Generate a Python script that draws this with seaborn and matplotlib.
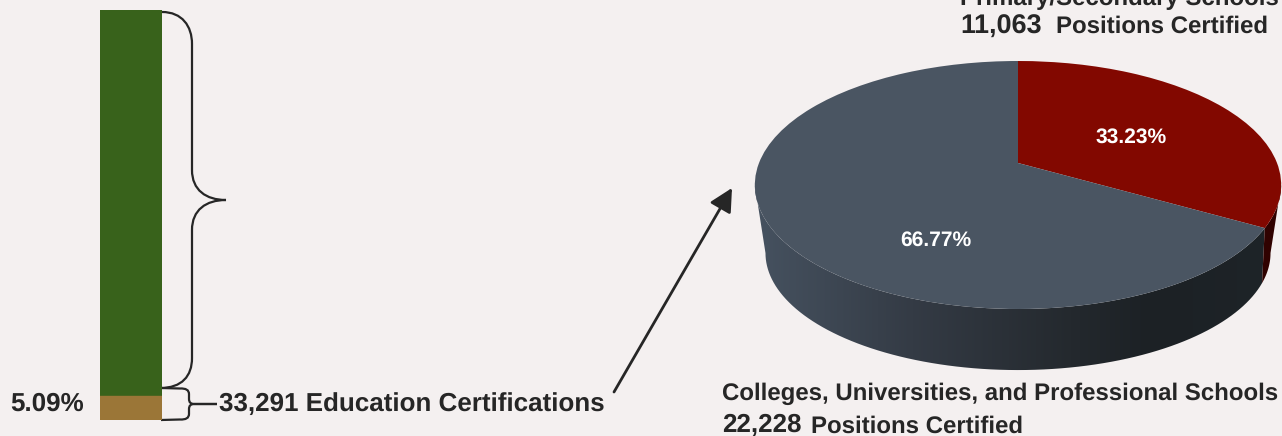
import numpy as np
import pandas as pd
import matplotlib
matplotlib.use("Agg")
import matplotlib.pyplot as plt
import seaborn as sns
from matplotlib.colors import LinearSegmentedColormap
from matplotlib.patches import PathPatch, Polygon
from matplotlib.path import Path
from matplotlib.transforms import Transform

# share of the bar as drawn in the picture
bar_labels = ["Other certifications", "Education certifications"]
bar_shares = [94.1, 5.9]
bar_colors = ["#38621b", "#9b7637"]

# pie values
pie_labels = ["Primary/Secondary Schools", "Colleges, Universities, and Professional Schools"]
pie_values = [11063, 22228]
pie_colors = ["#820800", "#4a5562"]

edu_share_label = "5.09%"
edu_total_label = "33,291 Education Certifications"

BG = "#f4f0f0"
INK = "#262626"
W, H = 1282, 436

sns.set_theme(style="white")
plt.rcParams["font.family"] = ["Liberation Sans", "DejaVu Sans"]
plt.rcParams["font.weight"] = "bold"
plt.rcParams["text.hinting"] = "no_hinting"
plt.rcParams["text.hinting_factor"] = 1


class PieTilt(Transform):
    # maps the flat unit pie to a tilted ellipse, in picture pixels
    input_dims = 2
    output_dims = 2

    def __init__(self, k, qx, cy, py):
        super().__init__()
        self.k, self.qx, self.cy, self.py = k, qx, cy, py

    def transform_non_affine(self, values):
        values = np.asarray(values, dtype=float)
        w = 1 + self.k * values[:, 1]
        return np.column_stack([1018 + self.qx * values[:, 0] / w,
                                (self.cy + self.py * values[:, 1]) / w])

    def edge(self):
        # clockwise angle from 12 o'clock where the ellipse is widest
        return np.degrees(np.arccos(-self.k))

    def rim(self, start, stop):
        t = np.radians(np.linspace(start, stop, 90))
        return self.transform_non_affine(np.column_stack([np.sin(t), np.cos(t)]))


tilt = PieTilt(0.1774, 259, 163, -91.18)
tilt_low = PieTilt(0.272, 243, 221.2, -48.2)

fig = plt.figure(figsize=(W / 100, H / 100), dpi=100, facecolor=BG)

# whole figure axes in pixels, for pie and the notes
ax = fig.add_axes([0, 0, 1, 1])
ax.set_facecolor("none")

split = 360 * pie_values[0] / sum(pie_values)

# side of the pie, left end goes to where each ellipse is widest
grey_side = np.vstack([tilt.rim(split, 360 - tilt.edge()), tilt_low.rim(360 - tilt_low.edge(), split)])
grey_wall = PathPatch(Path(grey_side), fc="none", ec="none")
ax.add_patch(grey_wall)
side_cmap = LinearSegmentedColormap.from_list(
    "side", [(0, "#465260"), (0.3, "#343b45"), (0.6, "#24292e"), (0.75, "#1c2125"), (1, "#1e2428")])
img = ax.imshow(np.linspace(0, 1, 256)[None, :], cmap=side_cmap, aspect="auto", extent=(754, 1282, 372, 150))
img.set_clip_path(grey_wall)
red_side = np.vstack([tilt.rim(tilt.edge(), split), tilt_low.rim(split, tilt_low.edge())])
ax.add_patch(Polygon(red_side, fc="#300200", ec="none"))

# top of the pie
wedges, _ = ax.pie(pie_values, colors=pie_colors, startangle=90, counterclock=False, radius=1)
for wedge in wedges:
    wedge.set_transform(tilt + ax.transData)
    wedge.set_linewidth(0)
ax.set_aspect("auto")
ax.set_xlim(0, W)
ax.set_ylim(H, 0)
ax.axis("off")

shares = [v / sum(pie_values) * 100 for v in pie_values]
ax.text(1131, 137.5, f"{shares[0]:.2f}%", color="white", fontsize=15.4, ha="center", va="center")
ax.text(936, 240.5, f"{shares[1]:.2f}%", color="white", fontsize=15.4, ha="center", va="center")

# stacked bar
ax_bar = fig.add_axes([100 / W, 1 - 420 / H, 62 / W, 410 / H])
bars = pd.DataFrame({"group": ["all"], "total": [sum(bar_shares)], "edu": [bar_shares[1]]})
sns.barplot(data=bars, x="group", y="total", color=bar_colors[0], saturation=1, width=1, ax=ax_bar)
sns.barplot(data=bars, x="group", y="edu", color=bar_colors[1], saturation=1, width=1, ax=ax_bar)
ax_bar.set_xlim(-0.5, 0.5)
ax_bar.set_ylim(0, sum(bar_shares))
ax_bar.axis("off")
for bar in ax_bar.patches:
    bar.set_snap(False)
    bar.set_linewidth(0)

# braces
big = Path([(162, 12), (182, 12), (192, 26), (192, 44), (192, 170), (192, 190), (206, 200), (226, 200),
            (206, 200), (192, 210), (192, 230), (192, 358), (192, 376), (182, 388), (160, 388)],
           [Path.MOVETO, Path.CURVE4, Path.CURVE4, Path.CURVE4, Path.LINETO, Path.CURVE4, Path.CURVE4, Path.CURVE4,
            Path.CURVE4, Path.CURVE4, Path.CURVE4, Path.LINETO, Path.CURVE4, Path.CURVE4, Path.CURVE4])
ax.add_patch(PathPatch(big, fc="none", ec=INK, lw=1.6))
small = Path([(161, 388), (180, 388.5), (189, 388), (189, 394), (189, 399), (189, 404), (194, 404),
              (217, 404), (194, 404), (189, 404), (189, 409), (189, 414), (189, 420), (180, 419.5), (161, 420)],
             [Path.MOVETO, Path.LINETO, Path.CURVE3, Path.CURVE3, Path.LINETO, Path.CURVE3, Path.CURVE3,
              Path.LINETO, Path.LINETO, Path.CURVE3, Path.CURVE3, Path.LINETO, Path.CURVE3, Path.CURVE3,
              Path.LINETO])
ax.add_patch(PathPatch(small, fc="none", ec=INK, lw=1.6))

# arrow
ax.annotate("", xy=(732, 188), xytext=(614, 392),
            arrowprops=dict(arrowstyle="-|>,head_length=0.7,head_width=0.36", lw=2, color=INK,
                            mutation_scale=20, shrinkA=0, shrinkB=0))

# labels
ax.text(10, 404.5, edu_share_label, color=INK, fontsize=19, va="center")
ax.text(219, 404, edu_total_label, color=INK, fontsize=19, va="center")

ax.text(960, -1, pie_labels[0], color=INK, fontsize=17.1, va="center", clip_on=False)
ax.text(960, 26.5, f"{pie_values[0]:,}", color=INK, fontsize=19.2, va="center")
ax.text(1056, 26.5, "Positions Certified", color=INK, fontsize=17.2, va="center")

ax.text(722, 394, pie_labels[1], color=INK, fontsize=17.3, va="center")
ax.text(722, 425, f"{pie_values[1]:,}", color=INK, fontsize=19, va="center")
ax.text(811, 426.5, "Positions Certified", color=INK, fontsize=17.2, va="center")

fig.savefig("out.png", dpi=100, facecolor=BG)
